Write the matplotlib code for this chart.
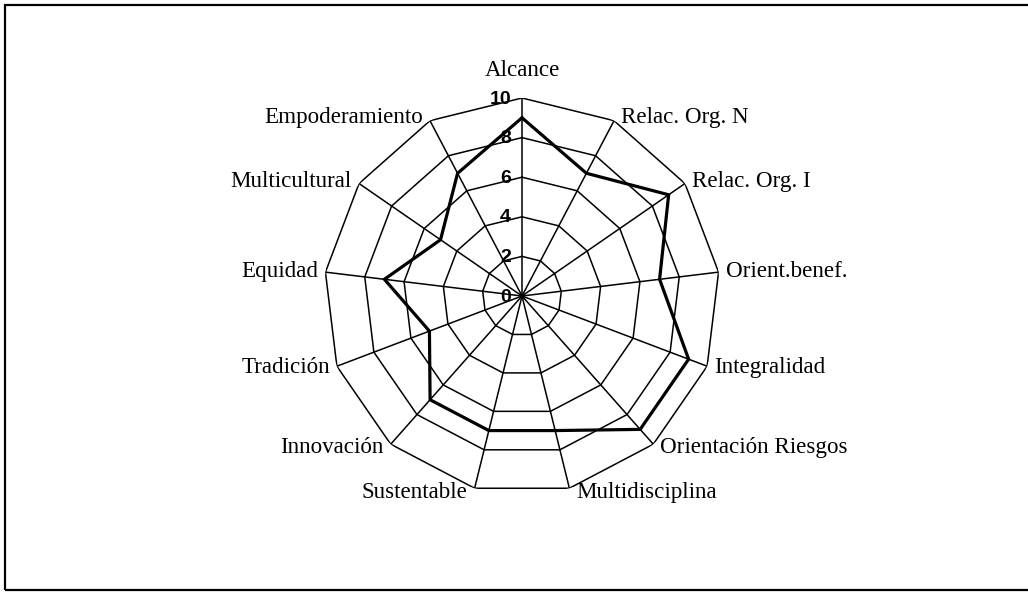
import numpy as np
import matplotlib
matplotlib.use("Agg")
import matplotlib.pyplot as plt
from matplotlib.patches import Rectangle

# categorías y valores
categorias = ['Alcance', 'Relac. Org. N', 'Relac. Org. I', 'Orient.benef.',
              'Integralidad', 'Orientación Riesgos', 'Multidisciplina',
              'Sustentable', 'Innovación', 'Tradición', 'Equidad',
              'Multicultural', 'Empoderamiento']
valores = [9, 7, 9, 7, 9, 9, 7, 7, 7, 5, 7, 5, 7]
anillos = [2, 4, 6, 8, 10]
etiquetas_eje = ['0', '2', '4', '6', '8', '10']

PX = 0.72  # puntos por pixel a dpi 100

fig = plt.figure(figsize=(10.28, 5.92), dpi=100)
fig.patch.set_facecolor('white')

# marco exterior
fig.add_artist(Rectangle((5 / 1028, 2 / 592), 1.1, 585 / 592, transform=fig.transFigure,
                         fill=False, edgecolor='black', linewidth=1.6))

ax = fig.add_axes([324 / 1028, 98 / 592, 396 / 1028, 396 / 592], projection='polar')
ax.set_theta_zero_location('N')
ax.set_theta_direction(-1)
ax.set_ylim(0, 10)
ax.grid(False)
ax.spines['polar'].set_visible(False)
ax.set_xticks([])
ax.set_yticks([])
ax.patch.set_alpha(0)

n = len(categorias)
ang = np.linspace(0, 2 * np.pi, n, endpoint=False)
ang_c = np.append(ang, ang[0])

# rejilla poligonal
for r in anillos:
    ax.plot(ang_c, [r] * (n + 1), color='black', linewidth=1.1, solid_joinstyle='miter')
for a in ang:
    ax.plot([a, a], [0, 10], color='black', linewidth=1.1)

# serie
vals_c = valores + valores[:1]
ax.plot(ang_c, vals_c, color='black', linewidth=2.3, solid_joinstyle='miter')

# etiquetas del eje radial
for i, t in enumerate(etiquetas_eje):
    ax.annotate(t, xy=(0, 2 * i), xytext=(-11 * PX, -1 * PX), textcoords='offset points',
                ha='right', va='center', fontsize=14, fontweight='bold',
                family=['Liberation Sans', 'DejaVu Sans'])

# etiquetas de categorías
for a, c in zip(ang, categorias):
    s, co = np.sin(a), np.cos(a)
    if abs(s) < 1e-6:
        ha, dx, dy = 'center', 0, 27
    else:
        ha = 'left' if s > 0 else 'right'
        dx = 7 if s > 0 else -7
        dy = 4 * co
    ax.annotate(c, xy=(a, 10), xytext=(dx * PX, dy * PX), textcoords='offset points',
                ha=ha, va='center', fontsize=16.6,
                family=['Liberation Serif', 'DejaVu Serif'], annotation_clip=False)

fig.savefig('out.png', dpi=100)
